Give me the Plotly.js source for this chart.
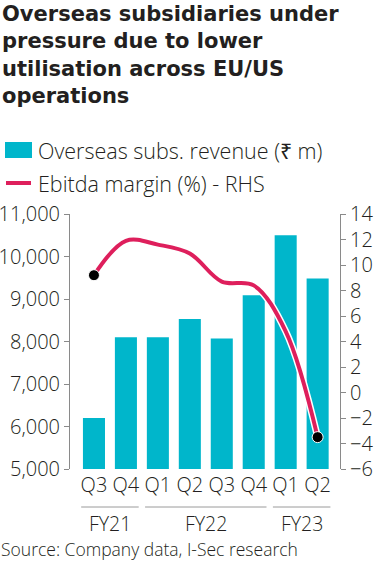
<!DOCTYPE html>
<html>
<head>
<meta charset="utf-8">
<script src="https://cdn.plot.ly/plotly-3.0.1.min.js"></script>
<style>html,body{margin:0;padding:0;background:#fff;}#chart{width:374px;height:561px;}</style>
</head>
<body>
<div id="chart"></div>
<script>
const titleLines = ["Overseas subsidiaries under","pressure due to lower","utilisation across EU/US","operations"];
const categories = ["Q3 FY21","Q4 FY21","Q1 FY22","Q2 FY22","Q3 FY22","Q4 FY22","Q1 FY23","Q2 FY23"];
const tickLabels = ["Q3","Q4","Q1","Q2","Q3","Q4","Q1","Q2"];
const revenue = [6200, 8100, 8100, 8530, 8070, 9090, 10500, 9480];
const ebitdaMargin = [9.2, 11.9, 11.6, 10.9, 8.7, 8.4, 4.8, -3.5];
const fyGroups = ["FY21","FY22","FY23"];
const fyStart = [0, 2, 6];
const fyEnd = [1, 5, 7];
const leftTicks = [5000, 6000, 7000, 8000, 9000, 10000, 11000];
const rightTicks = [-6, -4, -2, 0, 2, 4, 6, 8, 10, 12, 14];

const TEAL = "#00B6CB";
const RED = "#DE1F5C";
const TXT = "#231F20";
const GREY = "#8a8a8a";
const FONT = "Open Sans";
const TITLE_FONT = "DejaVu Sans";

const endIdx = [0, categories.length - 1];

const traces = [
  {type:"bar", x:categories, y:revenue, marker:{color:TEAL}, yaxis:"y", hoverinfo:"skip", showlegend:false},
  {type:"scatter", mode:"lines", x:categories, y:ebitdaMargin, yaxis:"y2",
   line:{color:"#ffffff", width:7, shape:"spline", smoothing:1}, hoverinfo:"skip", showlegend:false},
  {type:"scatter", mode:"lines", x:categories, y:ebitdaMargin, yaxis:"y2",
   line:{color:RED, width:4, shape:"spline", smoothing:1}, showlegend:false},
  {type:"scatter", mode:"markers", x:endIdx.map(i=>categories[i]), y:endIdx.map(i=>ebitdaMargin[i]), yaxis:"y2",
   marker:{color:"#000", size:11, line:{color:"#fff", width:1}}, showlegend:false}
];

// plot area pixel geometry helpers
const L = 70, R = 34, T = 214, B = 92, W = 374 - L - R, H = 561 - T - B;
const px = x => (x - L) / W;
const py = y => (T + H - y) / H;

const shapes = [
  {type:"rect", xref:"paper", yref:"paper", x0:px(5), x1:px(32), y0:py(158), y1:py(142), fillcolor:TEAL, line:{width:0}},
  {type:"line", xref:"paper", yref:"paper", x0:px(6), x1:px(31), y0:py(183), y1:py(183), line:{color:RED, width:4}}
];
const annotations = [
  {xref:"paper", yref:"paper", x:px(0), y:py(0), xanchor:"left", yanchor:"top", align:"left", showarrow:false,
   text:titleLines.join("<br>"), font:{family:TITLE_FONT, size:21, color:TXT, weight:700}},
  {xref:"paper", yref:"paper", x:px(37), y:py(150), xanchor:"left", yanchor:"middle", showarrow:false, borderpad:0,
   text:"Overseas subs. revenue (₹ m)", font:{family:FONT, size:21.5, color:TXT, weight:300}},
  {xref:"paper", yref:"paper", x:px(37), y:py(183), xanchor:"left", yanchor:"middle", showarrow:false, borderpad:0,
   text:"Ebitda margin (%) - RHS", font:{family:FONT, size:21.5, color:TXT, weight:300}},
  {xref:"paper", yref:"paper", x:px(0), y:py(549), xanchor:"left", yanchor:"middle", showarrow:false, borderpad:0,
   text:"Source: Company data, I-Sec research", font:{family:FONT, size:17.5, color:TXT, weight:300}}
];
fyGroups.forEach((g, i) => {
  shapes.push({type:"line", xref:"x", yref:"paper", x0:fyStart[i]-0.4, x1:fyEnd[i]+0.4, y0:py(507), y1:py(507), line:{color:"#9a9a9a", width:1}});
  annotations.push({xref:"x", yref:"paper", x:(fyStart[i]+fyEnd[i])/2, y:py(523.5), xanchor:"center", yanchor:"middle", showarrow:false, borderpad:0,
    text:g, font:{family:FONT, size:19.5, color:TXT, weight:300}});
});

const layout = {
  width:374, height:561,
  margin:{l:L, r:R, t:T, b:B},
  paper_bgcolor:"#fff", plot_bgcolor:"#fff",
  bargap:0.31,
  showlegend:false,
  xaxis:{type:"category", range:[-0.75, 7.7], tickvals:categories, ticktext:tickLabels,
    showgrid:false, zeroline:false, showline:false, ticks:"", ticklabelstandoff:2,
    tickfont:{family:FONT, size:20, color:TXT, weight:300}},
  yaxis:{range:[5000, 11000], tickvals:leftTicks, tickformat:",d", showgrid:false, zeroline:false,
    showline:true, linecolor:GREY, linewidth:1, ticks:"outside", ticklen:5, tickcolor:GREY,
    tickfont:{family:FONT, size:20, color:TXT, weight:300}},
  yaxis2:{range:[-6, 14], tickvals:rightTicks, overlaying:"y", side:"right", showgrid:false, zeroline:false,
    showline:true, linecolor:GREY, linewidth:1, ticks:"outside", ticklen:5, tickcolor:GREY,
    tickfont:{family:FONT, size:20, color:TXT, weight:300}},
  shapes:shapes,
  annotations:annotations
};

Plotly.newPlot("chart", traces, layout, {staticPlot:true, displayModeBar:false});
</script>
</body>
</html>
